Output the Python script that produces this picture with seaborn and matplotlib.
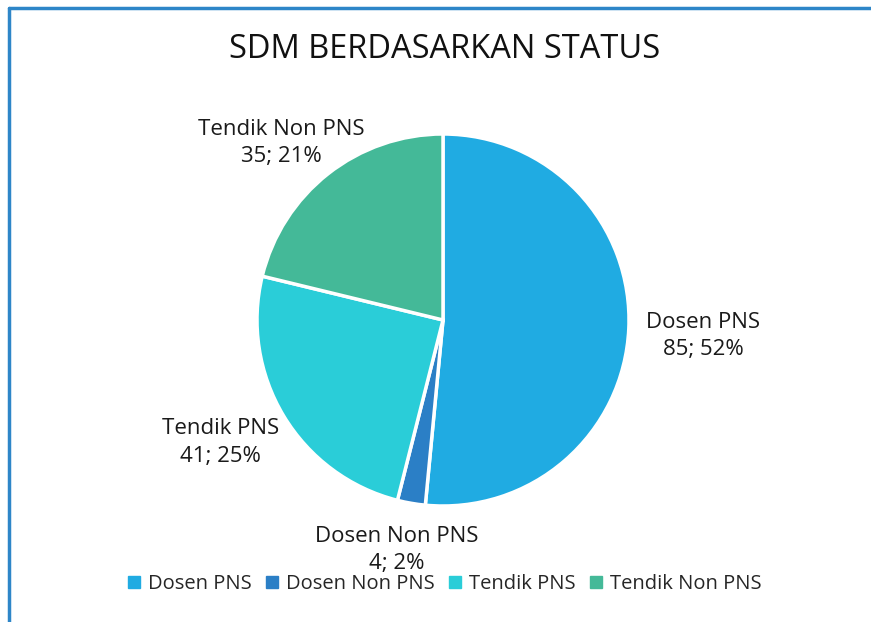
import numpy as np
import matplotlib.pyplot as plt
import seaborn as sns
from matplotlib.lines import Line2D

categories = ['Dosen PNS', 'Dosen Non PNS', 'Tendik PNS', 'Tendik Non PNS']
values = [85, 4, 41, 35]
percent_labels = ['52%', '2%', '25%', '21%']
colors = ['#20ABE2', '#2B7FC6', '#2ACDD8', '#44B998']
# label placement: distance from centre (in radii) and angle nudge (deg)
label_dist = [1.40, 1.262, 1.367, 1.29]
label_nudge = [-0.8, -1.6, -2.3, 4.3]

sns.set_theme(style='white')
plt.rcParams['font.family'] = ['Open Sans', 'DejaVu Sans']

W, H = 871, 622
fig = plt.figure(figsize=(W / 100, H / 100), dpi=100)
fig.patch.set_facecolor('white')

# frame lines (top and left)
fig.add_artist(Line2D([9 / W, 1], [1 - 8 / H, 1 - 8 / H], color='#2E86C8', lw=2.5))
fig.add_artist(Line2D([9 / W, 9 / W], [0, 1 - 8 / H], color='#2E86C8', lw=2.5))

cx, cy, r = 443, 320, 186
ax = fig.add_axes([(cx - 1.5 * r) / W, (H - cy - 1.5 * r) / H, 3 * r / W, 3 * r / H])

wedges, _ = ax.pie(values, colors=colors, startangle=90, counterclock=False,
                   wedgeprops=dict(edgecolor='white', linewidth=2.5))
ax.set_xlim(-1.5, 1.5)
ax.set_ylim(-1.5, 1.5)
ax.set_aspect('equal')
ax.axis('off')

for w, cat, v, p, d, n in zip(wedges, categories, values, percent_labels,
                              label_dist, label_nudge):
    ang = np.deg2rad((w.theta1 + w.theta2) / 2 + n)
    ax.text(d * np.cos(ang), d * np.sin(ang), f'{cat}\n{v}; {p}',
            ha='center', va='center', fontsize=16, color='#1a1a1a',
            linespacing=1.4)

fig.text(445 / W, 1 - 50 / H, 'SDM BERDASARKAN STATUS', ha='center', va='center',
         fontsize=23.5, color='#111111')

handles = [plt.Rectangle((0, 0), 1, 1, color=c) for c in colors]
fig.legend(handles, categories, loc='center', bbox_to_anchor=(445 / W, 1 - 584 / H),
           ncol=4, frameon=False, fontsize=14.5, handlelength=0.6, handleheight=0.6,
           handletextpad=0.4, columnspacing=0.7)

fig.savefig('out.png', dpi=100, facecolor='white')
